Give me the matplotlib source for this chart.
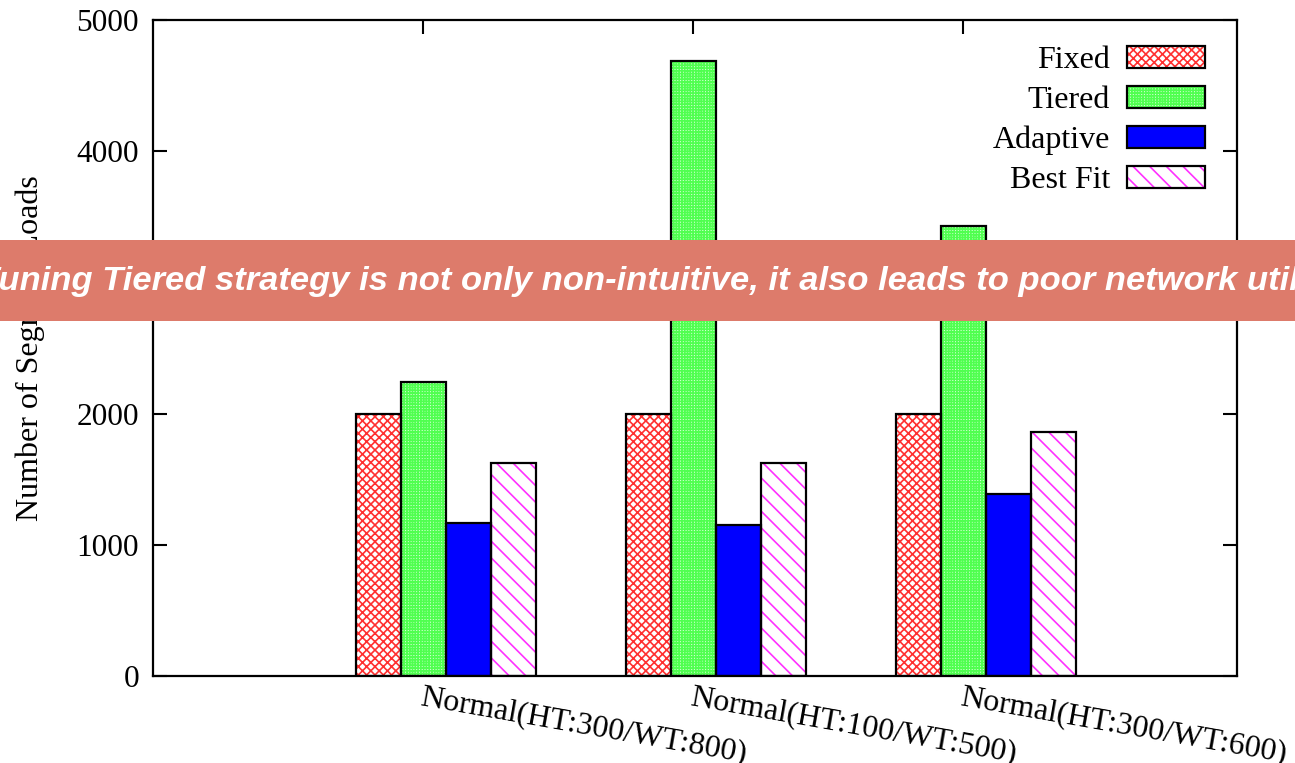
import numpy as np
import matplotlib
matplotlib.use("Agg")
import matplotlib.pyplot as plt
from matplotlib.patches import Rectangle, Patch
from matplotlib.legend_handler import HandlerTuple

# data
groups = ["Normal(HT:300/WT:800)", "Normal(HT:100/WT:500)", "Normal(HT:300/WT:600)"]
series = ["Fixed", "Tiered", "Adaptive", "Best Fit"]
fixed = [2000, 2000, 2000]
tiered = [2240, 4690, 3430]
adaptive = [1170, 1150, 1385]
best_fit = [1620, 1620, 1860]
yticks = [0, 1000, 2000, 3000, 4000, 5000]
banner = ("Tuning Tiered strategy is not only non-intuitive, "
          "it also leads to poor network utilization")

values = [fixed, tiered, adaptive, best_fit]
hatch_colors = ["#ff3030", "#50ff50", "#0000ff", "#ff30ff"]
faces = ["white", "#d4ffd4", "#0000ff", "white"]
hatches = ["xxxx", "++++++", None, "\\\\"]

plt.rcParams["font.family"] = ["Liberation Serif", "DejaVu Serif"]
plt.rcParams["hatch.linewidth"] = 1.2

fig = plt.figure(figsize=(12.95, 7.63), dpi=100)
ax = fig.add_axes([0.1181, 0.1140, 0.8371, 0.8598])

x = np.arange(len(groups))
w = 1 / 6
handles = []
for k, (vals, name) in enumerate(zip(values, series)):
    pos = x + (k - 1.5) * w
    # hatch layer, then a black outline on top (gnuplot look)
    ax.bar(pos, vals, w, color=faces[k], edgecolor=hatch_colors[k],
           hatch=hatches[k], linewidth=0, zorder=2)
    ax.bar(pos, vals, w, facecolor="none", edgecolor="black",
           linewidth=1.6, zorder=3)
    h1 = Patch(facecolor=faces[k], edgecolor=hatch_colors[k], hatch=hatches[k], linewidth=0)
    h2 = Patch(facecolor="none", edgecolor="black", linewidth=1.6)
    handles.append((h1, h2))

ax.set_xlim(-1.085, 2.93)
ax.set_ylim(0, 5000)
ax.set_yticks(yticks)
ax.set_xticks(x - w / 2)
ax.set_xticklabels(groups, rotation=-10, ha="left", va="top",
                   rotation_mode="anchor", fontsize=23)
ax.tick_params(axis="y", labelsize=22.5, pad=10)
ax.tick_params(direction="in", length=10, width=1.5, top=True, right=True)
ax.tick_params(axis="x", pad=5)
for s in ax.spines.values():
    s.set_linewidth(1.6)
ax.set_ylabel("Number of Segment Loads", fontsize=23, labelpad=23)

ax.legend(handles, series, handler_map={tuple: HandlerTuple(ndivide=1, pad=0)},
          loc="upper right", bbox_to_anchor=(0.9705, 0.960), frameon=False,
          borderpad=0, borderaxespad=0,
          markerfirst=False, fontsize=23, handlelength=2.44, handleheight=0.69,
          labelspacing=0.33, handletextpad=0.53)

# overlay banner
fig.add_artist(Rectangle((0, 1 - 321 / 763), 1, 81 / 763, transform=fig.transFigure,
                         facecolor="#dd7b6b", edgecolor="none", zorder=10))
fig.text(-0.017, 1 - 281 / 763, banner, color="white", fontsize=24.8,
         fontweight="bold", fontstyle="italic", ha="left", va="center",
         family=["Liberation Sans", "DejaVu Sans"], zorder=11)

fig.savefig("out.png", dpi=100)
